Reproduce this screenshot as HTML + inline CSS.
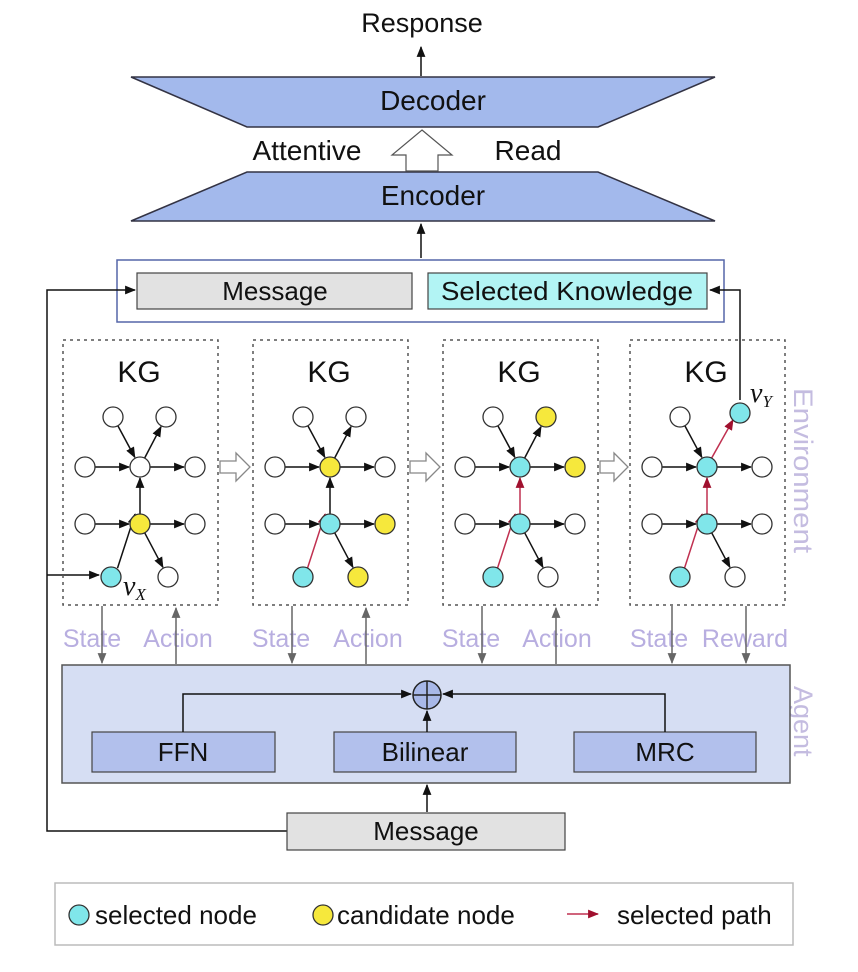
<!DOCTYPE html>
<html><head><meta charset="utf-8"><style>
body{margin:0;background:#fff}
svg{display:block;font-family:"Liberation Sans",sans-serif}
</style></head><body>
<svg width="858" height="972" viewBox="0 0 858 972" xmlns="http://www.w3.org/2000/svg">
<defs>
<marker id="ab" viewBox="0 0 10 10" refX="9" refY="5" markerWidth="11" markerHeight="11" markerUnits="userSpaceOnUse" orient="auto"><path d="M0,1 L10,5 L0,9 z" fill="#111"/></marker>
<marker id="ar" viewBox="0 0 10 10" refX="9" refY="5" markerWidth="11" markerHeight="11" markerUnits="userSpaceOnUse" orient="auto"><path d="M0,1 L10,5 L0,9 z" fill="#a0102e"/></marker>
<marker id="ag" viewBox="0 0 10 10" refX="9" refY="5" markerWidth="11" markerHeight="11" markerUnits="userSpaceOnUse" orient="auto"><path d="M0,1 L10,5 L0,9 z" fill="#666"/></marker>
</defs>

<!-- top -->
<text x="422" y="32" font-size="27" text-anchor="middle" fill="#111">Response</text>
<line x1="421" y1="76" x2="421" y2="47" stroke="#111" stroke-width="1.5" marker-end="url(#ab)"/>
<polygon points="131,77 715,77 598,127 247,127" fill="#a3b9ec" stroke="#334" stroke-width="1.5"/>
<text x="433" y="110" font-size="28" text-anchor="middle" fill="#111">Decoder</text>
<polygon points="247,172 598,172 715,221 131,221" fill="#a3b9ec" stroke="#334" stroke-width="1.5"/>
<text x="433" y="205" font-size="28" text-anchor="middle" fill="#111">Encoder</text>
<polygon points="422,130 452,155 438,155 438,171 406,171 406,155 392,155" fill="#fff" stroke="#555" stroke-width="1.2"/>
<text x="307" y="160" font-size="28" text-anchor="middle" fill="#111">Attentive</text>
<text x="528" y="160" font-size="28" text-anchor="middle" fill="#111">Read</text>
<line x1="421" y1="258" x2="421" y2="224" stroke="#111" stroke-width="1.5" marker-end="url(#ab)"/>

<rect x="117" y="260" width="607" height="62" fill="#fff" stroke="#5566a8" stroke-width="1.5"/>
<rect x="137" y="273" width="275" height="36" fill="#e2e2e2" stroke="#444" stroke-width="1.2"/>
<text x="275" y="300" font-size="26" text-anchor="middle" fill="#111">Message</text>
<rect x="428" y="273" width="279" height="36" fill="#b2f4f4" stroke="#444" stroke-width="1.2"/>
<text x="567" y="300" font-size="26" text-anchor="middle" fill="#111" textLength="252" lengthAdjust="spacingAndGlyphs">Selected Knowledge</text>

<!-- left feedback -->
<polyline points="287,831 47,831 47,290 135,290" fill="none" stroke="#111" stroke-width="1.5" marker-end="url(#ab)"/>
<line x1="47" y1="575" x2="99" y2="575" stroke="#111" stroke-width="1.5" marker-end="url(#ab)"/>
<!-- vY to SK -->
<polyline points="740,400 740,290 710,290" fill="none" stroke="#111" stroke-width="1.5" marker-end="url(#ab)"/>

<!-- panels -->
<g stroke="#555" stroke-width="1.5" stroke-dasharray="3,4" fill="none">
<rect x="63" y="340" width="155" height="265"/>
<rect x="253" y="340" width="155" height="265"/>
<rect x="443" y="340" width="155" height="265"/>
<rect x="630" y="340" width="155" height="265"/>
</g>
<g font-size="30" fill="#111" text-anchor="middle">
<text x="139" y="382">KG</text><text x="329" y="382">KG</text><text x="519" y="382">KG</text><text x="706" y="382">KG</text>
</g>
<!-- hollow arrows between panels -->
<g fill="#fff" stroke="#888" stroke-width="1.3">
<polygon points="220,461 236,461 236,453 250,467 236,481 236,473 220,473"/>
<polygon points="410,461 426,461 426,453 440,467 426,481 426,473 410,473"/>
<polygon points="600,461 614,461 614,453 628,467 614,481 614,473 600,473"/>
</g>

<!-- panel 1 -->
<g transform="translate(0,0)" stroke-width="1.5">
<g stroke="#111">
<line x1="118" y1="426" x2="134.8" y2="457.3" marker-end="url(#ab)"/>
<line x1="144.6" y1="458.1" x2="161" y2="426.7" marker-end="url(#ab)"/>
<line x1="95" y1="467" x2="129" y2="467" marker-end="url(#ab)"/>
<line x1="150" y1="467" x2="184" y2="467" marker-end="url(#ab)"/>
<line x1="140" y1="514" x2="140" y2="478" marker-end="url(#ab)"/>
<line x1="95" y1="524" x2="129" y2="524" marker-end="url(#ab)"/>
<line x1="150" y1="524" x2="184" y2="524" marker-end="url(#ab)"/>
<line x1="117.5" y1="568.1" x2="135" y2="514.2" marker-end="url(#ab)"/>
<line x1="144.7" y1="532.8" x2="162.9" y2="567.3" marker-end="url(#ab)"/>
</g>
<g stroke="#333" stroke-width="1.3">
<circle cx="113" cy="417" r="10" fill="#fff"/><circle cx="166" cy="417" r="10" fill="#fff"/>
<circle cx="85" cy="467" r="10" fill="#fff"/><circle cx="140" cy="467" r="10" fill="#fff"/><circle cx="195" cy="467" r="10" fill="#fff"/>
<circle cx="85" cy="524" r="10" fill="#fff"/><circle cx="140" cy="524" r="10" fill="#f6e83c"/><circle cx="195" cy="524" r="10" fill="#fff"/>
<circle cx="111" cy="577" r="10" fill="#80e6ea"/><circle cx="168" cy="577" r="10" fill="#fff"/>
</g>
<text x="123" y="595" font-size="28" font-style="italic" font-family="Liberation Serif,serif" fill="#111">v<tspan font-size="17" dy="5">X</tspan></text>
</g>

<!-- panel 2 -->
<g transform="translate(190,0)" stroke-width="1.5">
<g stroke="#111">
<line x1="118" y1="426" x2="134.8" y2="457.3" marker-end="url(#ab)"/>
<line x1="144.6" y1="458.1" x2="161" y2="426.7" marker-end="url(#ab)"/>
<line x1="95" y1="467" x2="129" y2="467" marker-end="url(#ab)"/>
<line x1="150" y1="467" x2="184" y2="467" marker-end="url(#ab)"/>
<line x1="140" y1="514" x2="140" y2="478" marker-end="url(#ab)"/>
<line x1="95" y1="524" x2="129" y2="524" marker-end="url(#ab)"/>
<line x1="150" y1="524" x2="184" y2="524" marker-end="url(#ab)"/>
<line x1="144.7" y1="532.8" x2="162.9" y2="567.3" marker-end="url(#ab)"/>
</g>
<line x1="117.5" y1="568.1" x2="135" y2="514.2" stroke="#c03050" marker-end="url(#ar)"/>
<g stroke="#333" stroke-width="1.3">
<circle cx="113" cy="417" r="10" fill="#fff"/><circle cx="166" cy="417" r="10" fill="#fff"/>
<circle cx="85" cy="467" r="10" fill="#fff"/><circle cx="140" cy="467" r="10" fill="#f6e83c"/><circle cx="195" cy="467" r="10" fill="#fff"/>
<circle cx="85" cy="524" r="10" fill="#fff"/><circle cx="140" cy="524" r="10" fill="#80e6ea"/><circle cx="195" cy="524" r="10" fill="#f6e83c"/>
<circle cx="113" cy="577" r="10" fill="#80e6ea"/><circle cx="168" cy="577" r="10" fill="#f6e83c"/>
</g>
</g>

<!-- panel 3 -->
<g transform="translate(380,0)" stroke-width="1.5">
<g stroke="#111">
<line x1="118" y1="426" x2="134.8" y2="457.3" marker-end="url(#ab)"/>
<line x1="144.6" y1="458.1" x2="161" y2="426.7" marker-end="url(#ab)"/>
<line x1="95" y1="467" x2="129" y2="467" marker-end="url(#ab)"/>
<line x1="150" y1="467" x2="184" y2="467" marker-end="url(#ab)"/>
<line x1="95" y1="524" x2="129" y2="524" marker-end="url(#ab)"/>
<line x1="150" y1="524" x2="184" y2="524" marker-end="url(#ab)"/>
<line x1="144.7" y1="532.8" x2="162.9" y2="567.3" marker-end="url(#ab)"/>
</g>
<g stroke="#c03050">
<line x1="140" y1="514" x2="140" y2="478" marker-end="url(#ar)"/>
<line x1="117.5" y1="568.1" x2="135" y2="514.2" marker-end="url(#ar)"/>
</g>
<g stroke="#333" stroke-width="1.3">
<circle cx="113" cy="417" r="10" fill="#fff"/><circle cx="166" cy="417" r="10" fill="#f6e83c"/>
<circle cx="85" cy="467" r="10" fill="#fff"/><circle cx="140" cy="467" r="10" fill="#80e6ea"/><circle cx="195" cy="467" r="10" fill="#f6e83c"/>
<circle cx="85" cy="524" r="10" fill="#fff"/><circle cx="140" cy="524" r="10" fill="#80e6ea"/><circle cx="195" cy="524" r="10" fill="#fff"/>
<circle cx="113" cy="577" r="10" fill="#80e6ea"/><circle cx="168" cy="577" r="10" fill="#fff"/>
</g>
</g>

<!-- panel 4 -->
<g transform="translate(567,0)" stroke-width="1.5">
<g stroke="#111">
<line x1="118" y1="426" x2="134.8" y2="457.3" marker-end="url(#ab)"/>
<line x1="95" y1="467" x2="129" y2="467" marker-end="url(#ab)"/>
<line x1="150" y1="467" x2="184" y2="467" marker-end="url(#ab)"/>
<line x1="95" y1="524" x2="129" y2="524" marker-end="url(#ab)"/>
<line x1="150" y1="524" x2="184" y2="524" marker-end="url(#ab)"/>
<line x1="144.7" y1="532.8" x2="162.9" y2="567.3" marker-end="url(#ab)"/>
</g>
<g stroke="#c03050">
<line x1="144.6" y1="458.1" x2="166" y2="420" marker-end="url(#ar)"/>
<line x1="140" y1="514" x2="140" y2="478" marker-end="url(#ar)"/>
<line x1="117.5" y1="568.1" x2="135" y2="514.2" marker-end="url(#ar)"/>
</g>
<g stroke="#333" stroke-width="1.3">
<circle cx="113" cy="417" r="10" fill="#fff"/><circle cx="173" cy="413" r="10" fill="#80e6ea"/>
<circle cx="85" cy="467" r="10" fill="#fff"/><circle cx="140" cy="467" r="10" fill="#80e6ea"/><circle cx="195" cy="467" r="10" fill="#fff"/>
<circle cx="85" cy="524" r="10" fill="#fff"/><circle cx="140" cy="524" r="10" fill="#80e6ea"/><circle cx="195" cy="524" r="10" fill="#fff"/>
<circle cx="113" cy="577" r="10" fill="#80e6ea"/><circle cx="168" cy="577" r="10" fill="#fff"/>
</g>
<text x="183" y="402" font-size="28" font-style="italic" font-family="Liberation Serif,serif" fill="#111">v<tspan font-size="17" dy="5">Y</tspan></text>
</g>

<text transform="translate(794,388) rotate(90)" font-size="27" fill="#c4bce0" textLength="165" lengthAdjust="spacingAndGlyphs">Environment</text>
<text transform="translate(794,686) rotate(90)" font-size="27" fill="#c4bce0">Agent</text>

<!-- State/Action -->
<g font-size="25" fill="#b8aee0" text-anchor="middle">
<text x="92" y="647">State</text><text x="178" y="647">Action</text>
<text x="281" y="647">State</text><text x="368" y="647">Action</text>
<text x="471" y="647">State</text><text x="557" y="647">Action</text>
<text x="659" y="647">State</text><text x="745" y="647">Reward</text>
</g>
<g stroke="#666" stroke-width="1.5">
<line x1="102" y1="606" x2="102" y2="663" marker-end="url(#ag)"/>
<line x1="176" y1="664" x2="176" y2="608" marker-end="url(#ag)"/>
<line x1="292" y1="606" x2="292" y2="663" marker-end="url(#ag)"/>
<line x1="366" y1="664" x2="366" y2="608" marker-end="url(#ag)"/>
<line x1="482" y1="606" x2="482" y2="663" marker-end="url(#ag)"/>
<line x1="556" y1="664" x2="556" y2="608" marker-end="url(#ag)"/>
<line x1="672" y1="606" x2="672" y2="663" marker-end="url(#ag)"/>
<line x1="746" y1="606" x2="746" y2="663" marker-end="url(#ag)"/>
</g>

<!-- agent -->
<rect x="62" y="665" width="728" height="118" fill="#d6def3" stroke="#555" stroke-width="1.5"/>
<rect x="92" y="732" width="183" height="40" fill="#b2c0ec" stroke="#444" stroke-width="1.2"/>
<text x="183" y="761" font-size="26" text-anchor="middle" fill="#111">FFN</text>
<rect x="334" y="732" width="182" height="40" fill="#b2c0ec" stroke="#444" stroke-width="1.2"/>
<text x="425" y="761" font-size="26" text-anchor="middle" fill="#111">Bilinear</text>
<rect x="574" y="732" width="182" height="40" fill="#b2c0ec" stroke="#444" stroke-width="1.2"/>
<text x="665" y="761" font-size="26" text-anchor="middle" fill="#111">MRC</text>
<circle cx="427" cy="695" r="14" fill="#a8b8e8" stroke="#222" stroke-width="1.5"/>
<line x1="413" y1="695" x2="441" y2="695" stroke="#222" stroke-width="1.5"/>
<line x1="427" y1="681" x2="427" y2="709" stroke="#222" stroke-width="1.5"/>
<polyline points="183,732 183,694 411,694" fill="none" stroke="#111" stroke-width="1.5" marker-end="url(#ab)"/>
<polyline points="665,732 665,694 443,694" fill="none" stroke="#111" stroke-width="1.5" marker-end="url(#ab)"/>
<line x1="427" y1="732" x2="427" y2="711" stroke="#111" stroke-width="1.5" marker-end="url(#ab)"/>

<!-- bottom message -->
<rect x="287" y="813" width="278" height="37" fill="#e2e2e2" stroke="#444" stroke-width="1.2"/>
<text x="426" y="840" font-size="26" text-anchor="middle" fill="#111">Message</text>
<line x1="427" y1="812" x2="427" y2="785" stroke="#111" stroke-width="1.5" marker-end="url(#ab)"/>

<!-- legend -->
<rect x="55" y="883" width="738" height="62" fill="#fff" stroke="#bbb" stroke-width="1.5"/>
<circle cx="79" cy="915" r="10" fill="#80e6ea" stroke="#333" stroke-width="1.3"/>
<text x="95" y="924" font-size="26" fill="#111">selected node</text>
<circle cx="323" cy="915" r="10" fill="#f6e83c" stroke="#333" stroke-width="1.3"/>
<text x="337" y="924" font-size="26" fill="#111">candidate node</text>
<line x1="567" y1="914" x2="598" y2="914" stroke="#c03050" stroke-width="1.5" marker-end="url(#ar)"/>
<text x="617" y="924" font-size="26" fill="#111">selected path</text>
</svg>
</body></html>
